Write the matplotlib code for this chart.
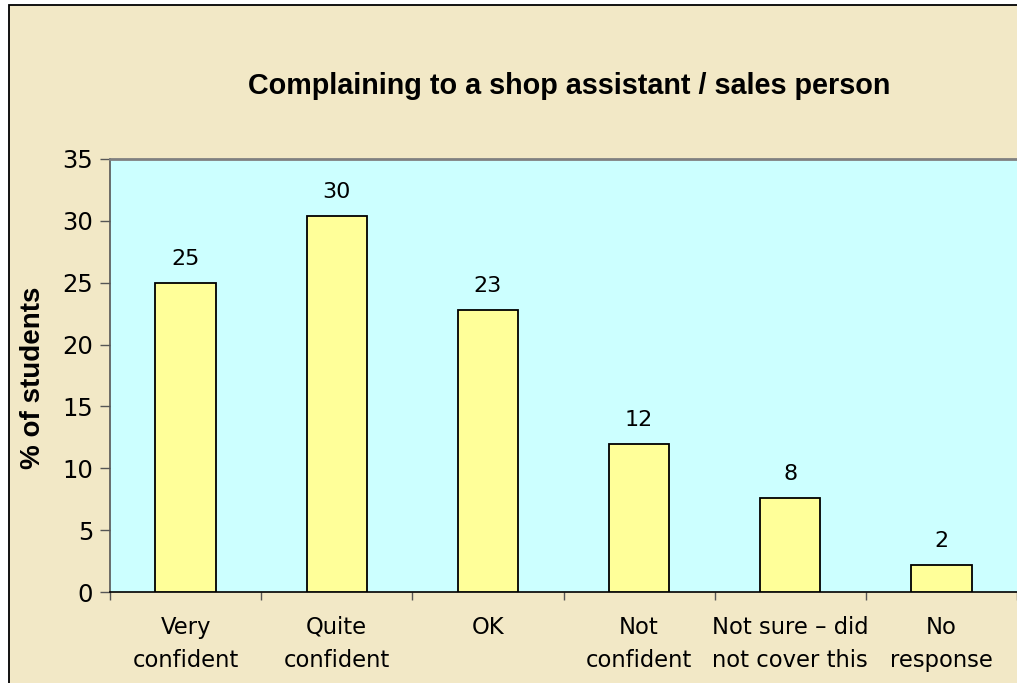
import matplotlib
matplotlib.use("Agg")
import matplotlib.pyplot as plt
from matplotlib.patches import Rectangle
import numpy as np

# Chart data
categories = ["Very\nconfident", "Quite\nconfident", "OK", "Not\nconfident",
              "Not sure \u2013 did\nnot cover this", "No\nresponse"]
values = [25.0, 30.4, 22.8, 12.0, 7.6, 2.2]
value_labels = ["25", "30", "23", "12", "8", "2"]
y_ticks = [0, 5, 10, 15, 20, 25, 30, 35]
title = "Complaining to a shop assistant / sales person"
y_label = "% of students"


def main():
    W, H = 1017, 683
    fig = plt.figure(figsize=(W / 100, H / 100), dpi=100, facecolor="white")

    # Beige chart area with black frame (cut off on right/bottom)
    fig.patches.append(Rectangle((9 / W, -0.05), 1.1, 1 - 5 / H + 0.05,
                                 transform=fig.transFigure, facecolor="#F2E8C6",
                                 edgecolor="black", linewidth=1.3, zorder=-10))

    ax = fig.add_axes([110 / W, 91 / H, 907 / W, 433 / H])
    ax.set_facecolor("#CCFFFF")

    x = np.arange(len(categories))
    ax.bar(x, values, width=0.4, color="#FFFF99", edgecolor="black",
           linewidth=1.3, zorder=3)

    for xi, v, lab in zip(x, values, value_labels):
        ax.annotate(lab, (xi, v), xytext=(0, 10), textcoords="offset points",
                    ha="center", va="bottom", fontsize=16, family="DejaVu Sans")

    ax.set_xlim(-0.5, len(categories) - 0.5)
    ax.set_ylim(0, 35)
    ax.set_yticks(y_ticks)
    ax.tick_params(axis="y", direction="out", length=7, width=1, color="#555555",
                   labelsize=17.5, pad=5)

    ax.set_xticks(x)
    ax.set_xticklabels(categories, fontsize=16.3, linespacing=1.6)
    ax.set_xticks(np.arange(len(categories) + 1) - 0.5, minor=True)
    ax.tick_params(axis="x", which="major", length=0, pad=17)
    ax.tick_params(axis="x", which="minor", direction="out", length=6,
                   width=1, color="#555555")

    ax.spines["right"].set_visible(False)
    ax.spines["top"].set_color("#808080")
    ax.spines["top"].set_linewidth(2)
    ax.spines["left"].set_color("#555555")
    ax.spines["left"].set_linewidth(1.2)
    ax.spines["bottom"].set_color("black")
    ax.spines["bottom"].set_linewidth(1.2)

    fig.text(569 / W, 1 - 86 / H, title, ha="center", va="center",
             fontsize=20.7, fontweight="bold", family="Liberation Sans")
    fig.text(33 / W, 1 - 378 / H, y_label, ha="center", va="center",
             rotation=90, fontsize=20, fontweight="bold", family="Liberation Sans")

    fig.savefig("out.png", dpi=100, facecolor=fig.get_facecolor())


if __name__ == "__main__":
    main()
